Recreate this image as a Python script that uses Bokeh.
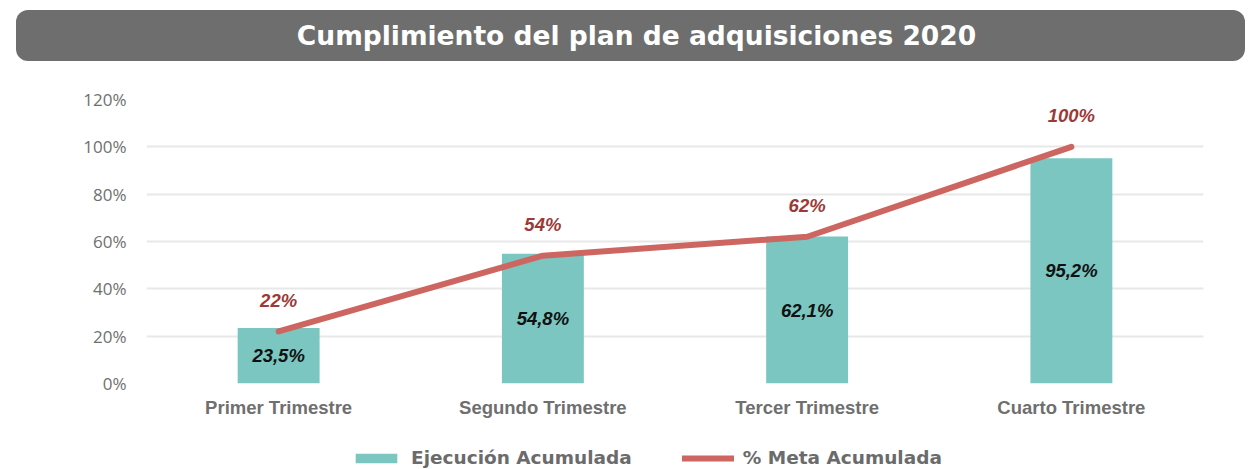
from bokeh.plotting import figure
from bokeh.models import (FactorRange, Range1d, NumeralTickFormatter, Legend, LegendItem,
                          FixedTicker, Div, ColumnDataSource)
from bokeh.layouts import column
from bokeh.core.properties import value
from bokeh.embed import file_html
from bokeh.resources import INLINE

title = "Cumplimiento del plan de adquisiciones 2020"
categorias = ["Primer Trimestre", "Segundo Trimestre", "Tercer Trimestre", "Cuarto Trimestre"]
ejecucion = [0.235, 0.548, 0.621, 0.952]
ejecucion_labels = ["23,5%", "54,8%", "62,1%", "95,2%"]
meta = [0.22, 0.54, 0.62, 1.00]
meta_labels = ["22%", "54%", "62%", "100%"]
y_ticks = [0, 0.2, 0.4, 0.6, 0.8, 1.0, 1.2]
serie_names = ["Ejecución Acumulada", "% Meta Acumulada"]

TEAL = "#7bc6c0"
RED = "#cd6660"
GRAY = "#6f6f6f"

div = Div(
    text=(f'<div style="margin:10px 0 0 16px;width:1229px;height:51px;background:#6e6e6e;'
          f'border-radius:12px;color:white;font-family:\'DejaVu Sans\';font-weight:bold;'
          f'font-size:26.5px;display:flex;align-items:center;justify-content:center;'
          f'padding-left:12px;box-sizing:border-box;">{title}</div>'),
    width=1241, height=61, margin=(0, 0, 0, 0))

p = figure(x_range=FactorRange(*categorias), y_range=Range1d(0, 1.2),
           width=1241, height=364, output_backend="svg", toolbar_location=None,
           min_border_left=146, min_border_right=38, min_border_top=38, min_border_bottom=42,
           outline_line_color=None, margin=(0, 0, 0, 0))

src = ColumnDataSource(dict(cat=categorias, ejec=ejecucion, ejec_half=[v / 2 for v in ejecucion],
                            ejec_lab=ejecucion_labels, meta=meta, meta_lab=meta_labels))

bars = p.vbar(x="cat", top="ejec", width=0.31, fill_color=TEAL, line_color=None, source=src)
line = p.line(x="cat", y="meta", line_color=RED, line_width=6, line_cap="round",
              line_join="round", source=src)

p.text(x="cat", y="ejec_half", text="ejec_lab", text_align="center", text_baseline="middle",
       text_font=value("Liberation Sans"), text_font_style="bold italic",
       text_font_size="18.5px", text_color="#111111", source=src)
p.text(x="cat", y="meta", text="meta_lab", text_align="center", text_baseline="middle",
       y_offset=-31, text_font=value("Liberation Sans"), text_font_style="bold italic",
       text_font_size="18.5px", text_color="#9b3a36", source=src)

p.yaxis.ticker = FixedTicker(ticks=y_ticks)
p.yaxis.formatter = NumeralTickFormatter(format="0%")
p.yaxis.axis_line_color = None
p.yaxis.major_tick_line_color = None
p.yaxis.minor_tick_line_color = None
p.yaxis.major_label_text_font = "Open Sans"
p.yaxis.major_label_text_font_size = "17px"
p.yaxis.major_label_text_color = GRAY
p.yaxis.major_label_standoff = 14

p.xaxis.axis_line_color = None
p.xaxis.major_tick_line_color = None
p.xaxis.major_tick_out = 0
p.xaxis.major_label_text_font = "Liberation Sans"
p.xaxis.major_label_text_font_style = "bold"
p.xaxis.major_label_text_font_size = "18.5px"
p.xaxis.major_label_text_color = GRAY
p.xaxis.major_label_standoff = 13

p.xgrid.grid_line_color = None
p.ygrid.grid_line_color = "#e8e8e8"
p.ygrid.grid_line_width = 2

# Legend strip below the chart (zero-size proxy glyphs draw nothing in the strip)
pl = figure(width=1241, height=44, x_range=Range1d(0, 1), y_range=Range1d(0, 1),
            x_axis_type=None, y_axis_type=None, output_backend="svg", toolbar_location=None,
            min_border=0, outline_line_color=None, margin=(0, 0, 0, 0))
pl.grid.visible = False
lb = pl.vbar(x=[0.5], top=[0], bottom=[0], width=0, fill_color=TEAL, line_color=None)
ll = pl.line(x=[0.5], y=[0.5], line_color=RED, line_width=6, line_cap="round")

legend = Legend(items=[LegendItem(label=serie_names[0], renderers=[lb]),
                       LegendItem(label=serie_names[1], renderers=[ll])],
                orientation="horizontal", location=(204, 1),
                glyph_width=52, glyph_height=12, label_standoff=9, spacing=50,
                padding=0, margin=0, border_line_color=None, background_fill_alpha=0,
                label_text_font="DejaVu Sans", label_text_font_style="bold",
                label_text_font_size="18.5px", label_text_color="#6b6b6b")
pl.add_layout(legend, "center")

layout = column(div, p, pl, spacing=0)
open("out.html", "w").write(file_html(layout, INLINE))
